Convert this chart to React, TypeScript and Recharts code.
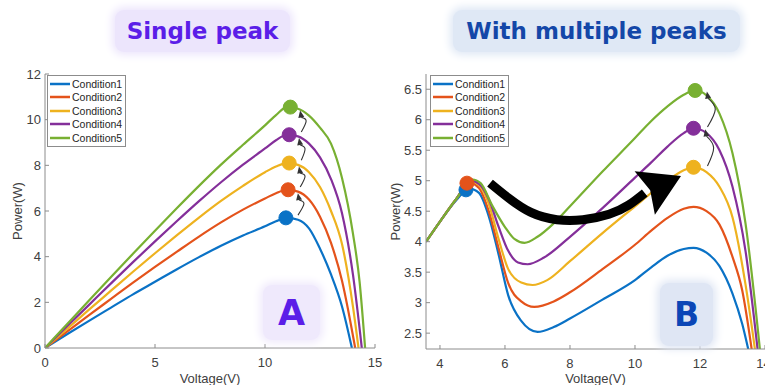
import React from 'react';
import { LineChart, Line, XAxis, YAxis, ReferenceDot, Legend } from 'recharts';

const conditions = ['Condition1', 'Condition2', 'Condition3', 'Condition4', 'Condition5'];
const colors = ['#0a72c6', '#e4531b', '#eeb21f', '#842f9a', '#78b032'];

// panel A - single peak (voltage / power per condition)
const voltA1 = [0, 1, 2, 3, 4, 5, 6, 7, 8, 9, 10, 10.5, 11, 11.5, 12, 12.5, 13, 13.5, 13.95];
const powerA1 = [0, 0.6, 1.19, 1.77, 2.35, 2.9, 3.45, 3.98, 4.48, 4.93, 5.33, 5.55, 5.7, 5.62, 5.24, 4.35, 3.22, 1.82, 0];
const voltA2 = [0, 1, 2, 3, 4, 5, 6, 7, 8, 9, 10, 10.5, 11, 11.5, 12, 12.5, 13, 13.5, 14.1];
const powerA2 = [0, 0.72, 1.44, 2.15, 2.86, 3.55, 4.22, 4.88, 5.5, 6.06, 6.55, 6.78, 6.93, 6.85, 6.5, 5.75, 4.6, 2.95, 0];
const voltA3 = [0, 1, 2, 3, 4, 5, 6, 7, 8, 9, 10, 10.5, 11, 11.5, 12, 12.5, 13, 13.5, 14, 14.25];
const powerA3 = [0, 0.84, 1.68, 2.51, 3.34, 4.15, 4.94, 5.71, 6.44, 7.1, 7.7, 7.95, 8.1, 8.02, 7.7, 7.05, 6.0, 4.55, 1.8, 0];
const voltA4 = [0, 1, 2, 3, 4, 5, 6, 7, 8, 9, 10, 10.5, 11, 11.5, 12, 12.5, 13, 13.5, 14, 14.4];
const powerA4 = [0, 0.95, 1.89, 2.83, 3.76, 4.67, 5.56, 6.43, 7.26, 8.03, 8.74, 9.1, 9.34, 9.27, 8.95, 8.35, 7.4, 5.9, 3.2, 0];
const voltA5 = [0, 1, 2, 3, 4, 5, 6, 7, 8, 9, 10, 10.5, 11, 11.5, 12, 12.5, 13, 13.5, 14, 14.3, 14.55];
const powerA5 = [0, 1.04, 2.08, 3.11, 4.13, 5.14, 6.13, 7.1, 8.03, 8.9, 9.75, 10.2, 10.55, 10.48, 10.18, 9.65, 8.95, 7.45, 5.0, 2.9, 0];
const peakVoltA = [10.95, 11.05, 11.1, 11.1, 11.15];
const peakPowerA = [5.7, 6.93, 8.1, 9.34, 10.55];
const xTicksA = [0, 5, 10, 15];
const yTicksA = [0, 2, 4, 6, 8, 10, 12];

// panel B - with multiple peaks
const voltB1 = [3.57, 4, 4.5, 4.9, 5.2, 5.5, 5.8, 6.1, 6.5, 7, 7.5, 8, 9, 10, 10.5, 11, 11.5, 11.8, 12.2, 12.6, 13, 13.3, 13.5];
const powerB1 = [4.0, 4.33, 4.68, 4.87, 4.8, 4.42, 3.8, 3.12, 2.7, 2.52, 2.6, 2.74, 3.05, 3.37, 3.58, 3.77, 3.88, 3.9, 3.82, 3.6, 3.15, 2.65, 2.2];
const voltB2 = [3.57, 4, 4.5, 4.9, 5.2, 5.5, 5.8, 6.1, 6.5, 6.9, 7.5, 8, 9, 10, 10.5, 11, 11.5, 11.8, 12.2, 12.6, 13, 13.3, 13.6];
const powerB2 = [4.0, 4.33, 4.7, 4.97, 4.88, 4.5, 3.9, 3.32, 3.02, 2.93, 3.02, 3.17, 3.55, 3.95, 4.18, 4.39, 4.54, 4.57, 4.5, 4.28, 3.75, 3.2, 2.2];
const voltB3 = [3.57, 4, 4.5, 4.95, 5.2, 5.5, 5.8, 6.1, 6.5, 6.85, 7.3, 8, 9, 10, 10.5, 11, 11.5, 11.8, 12.2, 12.6, 13, 13.4, 13.7];
const powerB3 = [4.0, 4.33, 4.7, 4.99, 4.93, 4.62, 4.05, 3.55, 3.33, 3.29, 3.37, 3.68, 4.14, 4.58, 4.8, 5.0, 5.17, 5.22, 5.14, 4.9, 4.4, 3.3, 2.2];
const voltB4 = [3.57, 4, 4.5, 4.95, 5.2, 5.5, 5.8, 6.1, 6.4, 6.7, 7.2, 8, 9, 10, 10.5, 11, 11.5, 11.8, 12.2, 12.6, 13, 13.4, 13.78];
const powerB4 = [4.0, 4.33, 4.7, 5.0, 4.95, 4.7, 4.25, 3.85, 3.66, 3.63, 3.74, 4.08, 4.55, 5.05, 5.3, 5.56, 5.78, 5.86, 5.78, 5.5, 4.9, 3.85, 2.2];
const voltB5 = [3.57, 4, 4.5, 5.0, 5.25, 5.6, 6.0, 6.3, 6.6, 7.0, 7.5, 8, 9, 10, 10.5, 11, 11.5, 11.85, 12.2, 12.6, 13, 13.4, 13.85];
const powerB5 = [4.0, 4.33, 4.7, 5.02, 4.96, 4.6, 4.24, 4.04, 3.98, 4.08, 4.3, 4.58, 5.15, 5.7, 5.98, 6.22, 6.41, 6.48, 6.4, 6.1, 5.45, 4.3, 2.2];
const peakVoltB = [4.8, 4.83, 11.8, 11.8, 11.85];
const peakPowerB = [4.85, 4.96, 5.22, 5.86, 6.48];
const xTicksB = [4, 6, 8, 10, 12, 14];
const yTicksB = [2.5, 3, 3.5, 4, 4.5, 5, 5.5, 6, 6.5];

// big black arrow (jump from local peak to global peak)
const jumpVolt = [5.54, 6.1, 6.8, 7.6, 8.4, 9.2, 9.8, 10.3];
const jumpPower = [4.96, 4.72, 4.48, 4.36, 4.36, 4.45, 4.6, 4.8];

const FONT = '"Liberation Sans", Arial, Helvetica, sans-serif';
const TITLE_FONT = '"DejaVu Sans", Verdana, sans-serif';
const AXIS = '#8c8c8c';
const TEXT = '#404040';

type Pt = { v: number; p: number; head?: boolean };

const toPoints = (vs: number[], ps: number[]): Pt[] => vs.map((v, i) => ({ v, p: ps[i] }));

const seriesA = [
  toPoints(voltA1, powerA1),
  toPoints(voltA2, powerA2),
  toPoints(voltA3, powerA3),
  toPoints(voltA4, powerA4),
  toPoints(voltA5, powerA5),
];
const seriesB = [
  toPoints(voltB1, powerB1),
  toPoints(voltB2, powerB2),
  toPoints(voltB3, powerB3),
  toPoints(voltB4, powerB4),
  toPoints(voltB5, powerB5),
];

// small curved arrows between consecutive peak markers
const stepArrow = (v0: number, p0: number, v1: number, p1: number, dvTail: number, dvMid: number, dvHead: number, dpTail: number, dpHead: number): Pt[] => [
  { v: v0 + dvTail, p: p0 + dpTail },
  { v: Math.max(v0, v1) + dvMid, p: (p0 + p1) / 2 },
  { v: v1 + dvHead, p: p1 - dpHead, head: true },
];

const arrowsA = [0, 1, 2, 3].map((i) =>
  stepArrow(peakVoltA[i], peakPowerA[i], peakVoltA[i + 1], peakPowerA[i + 1], 0.55, 0.72, 0.5, 0.12, 0.45)
);
const arrowsB = [2, 3].map((i) =>
  stepArrow(peakVoltB[i], peakPowerB[i], peakVoltB[i + 1], peakPowerB[i + 1], 0.43, 0.62, 0.4, 0.02, 0.13)
);
const jumpArrow: Pt[] = jumpVolt.map((v, i) => ({ v, p: jumpPower[i], head: i === jumpVolt.length - 1 }));

const headDot = (angle: number, len: number, half: number, notch: number, color: string) => (props: any) => {
  const { cx, cy, payload, index } = props;
  if (!payload || !payload.head || cx == null || cy == null) return <g key={`n-${index}`} />;
  const a = (angle * Math.PI) / 180;
  const ux = Math.cos(a);
  const uy = Math.sin(a);
  const nx = -uy;
  const ny = ux;
  const pts = [
    [cx + ux * len, cy + uy * len],
    [cx + nx * half, cy + ny * half],
    [cx + ux * len * notch, cy + uy * len * notch],
    [cx - nx * half, cy - ny * half],
  ];
  return <polygon key={`h-${index}`} points={pts.map((q) => q.join(',')).join(' ')} fill={color} />;
};

const renderLegend = (props: any) => {
  const items = (props.payload || []).filter((e: any) => e.type !== 'none');
  return (
    <div
      style={{
        border: `1px solid ${AXIS}`,
        background: '#fff',
        padding: '1px 3px 1px 2px',
        fontSize: 10.5,
        color: '#262626',
        fontFamily: FONT,
      }}
    >
      {items.map((e: any) => (
        <div key={e.value} style={{ display: 'flex', alignItems: 'center', height: 13.5 }}>
          <svg width={20} height={6} style={{ marginRight: 2 }}>
            <line x1={0} y1={3} x2={20} y2={3} stroke={e.color} strokeWidth={2.5} />
          </svg>
          <span>{e.value}</span>
        </div>
      ))}
    </div>
  );
};

interface PanelProps {
  left: number;
  width: number;
  series: Pt[][];
  peakV: number[];
  peakP: number[];
  xDomain: [number, number];
  yDomain: [number, number];
  xTicks: number[];
  yTicks: number[];
  yAxisWidth: number;
  xAxisHeight: number;
  marginRight: number;
  legendLeft: number;
  labelOffset: number;
  arrows: Pt[][];
  jump?: Pt[];
}

const Panel: React.FC<PanelProps> = (p) => {
  const tick = { fontSize: 13, fill: TEXT, fontFamily: FONT };
  const thinHead = headDot(-100, 7, 3, 0, '#333');
  return (
    <div style={{ position: 'absolute', left: p.left, top: 0 }}>
      <LineChart width={p.width} height={385} margin={{ top: 74, right: p.marginRight, bottom: 0, left: 0 }}>
        <XAxis
          dataKey="v"
          type="number"
          domain={p.xDomain}
          ticks={p.xTicks}
          allowDataOverflow
          stroke={AXIS}
          tickSize={-4}
          tickMargin={14}
          tick={tick}
          height={p.xAxisHeight}
          label={{ value: 'Voltage(V)', position: 'insideBottom', offset: 2, fill: TEXT, fontSize: 13, fontFamily: FONT }}
        />
        <XAxis
          xAxisId="top"
          orientation="top"
          dataKey="v"
          type="number"
          domain={p.xDomain}
          ticks={p.xTicks}
          allowDataOverflow
          stroke={AXIS}
          tickSize={-4}
          tick={false}
          height={0}
        />
        <YAxis
          type="number"
          domain={p.yDomain}
          ticks={p.yTicks}
          allowDataOverflow
          stroke={AXIS}
          tickSize={-4}
          tickMargin={8}
          tick={tick}
          width={p.yAxisWidth}
          label={{
            value: 'Power(W)',
            angle: -90,
            position: 'insideLeft',
            offset: p.labelOffset,
            fill: TEXT,
            fontSize: 13,
            fontFamily: FONT,
            style: { textAnchor: 'middle' },
          }}
        />
        <YAxis
          yAxisId="right"
          orientation="right"
          type="number"
          domain={p.yDomain}
          ticks={p.yTicks}
          allowDataOverflow
          stroke={AXIS}
          tickSize={-4}
          tick={false}
          width={0}
        />
        <Legend
          layout="vertical"
          align="center"
          verticalAlign="middle"
          content={renderLegend}
          wrapperStyle={{ left: p.legendLeft, top: 75, width: 'auto' }}
        />
        {p.series.map((data, i) => (
          <Line
            key={conditions[i]}
            name={conditions[i]}
            data={data}
            dataKey="p"
            type="monotone"
            stroke={colors[i]}
            strokeWidth={2.2}
            dot={false}
            activeDot={false}
            isAnimationActive={false}
          />
        ))}
        {p.arrows.map((data, i) => (
          <Line
            key={`arrow-${i}`}
            data={data}
            dataKey="p"
            type="natural"
            stroke="#333"
            strokeWidth={1.1}
            dot={thinHead}
            activeDot={false}
            legendType="none"
            isAnimationActive={false}
          />
        ))}
        {p.peakV.map((v, i) => (
          <ReferenceDot key={`peak-${i}`} x={v} y={p.peakP[i]} r={7} fill={colors[i]} stroke={colors[i]} />
        ))}
        {p.jump && (
          <Line
            data={p.jump}
            dataKey="p"
            type="natural"
            stroke="#000"
            strokeWidth={9}
            dot={headDot(-25, 40, 24, 0.15, '#000')}
            activeDot={false}
            legendType="none"
            isAnimationActive={false}
          />
        )}
      </LineChart>
    </div>
  );
};

const badge = (
  left: number,
  top: number,
  width: number,
  height: number,
  bg: string,
  color: string,
  size: number,
  text: string
) => (
  <div
    style={{
      position: 'absolute',
      left,
      top,
      width,
      height,
      background: bg,
      borderRadius: 9,
      boxShadow: `0 0 8px 3px ${bg}`,
      display: 'flex',
      alignItems: 'center',
      justifyContent: 'center',
      color,
      fontFamily: TITLE_FONT,
      fontWeight: 'bold',
      fontSize: size,
      whiteSpace: 'nowrap',
    }}
  >
    {text}
  </div>
);

export default function App() {
  return (
    <div
      style={{
        position: 'absolute',
        left: 0,
        top: 0,
        width: 765,
        height: 385,
        overflow: 'hidden',
        background: '#fff',
        fontFamily: FONT,
      }}
    >
      {badge(115, 10, 175, 42, '#ece5fc', '#5b1ee8', 23, 'Single peak')}
      {badge(453, 10, 287, 42, '#dfe8f5', '#1447a8', 23, 'With multiple peaks')}
      <Panel
        left={0}
        width={390}
        series={seriesA}
        peakV={peakVoltA}
        peakP={peakPowerA}
        xDomain={[0, 15]}
        yDomain={[0, 12]}
        xTicks={xTicksA}
        yTicks={yTicksA}
        yAxisWidth={45}
        xAxisHeight={37}
        marginRight={15}
        legendLeft={47}
        labelOffset={17}
        arrows={arrowsA}
      />
      <Panel
        left={380}
        width={390}
        series={seriesB}
        peakV={peakVoltB}
        peakP={peakPowerB}
        xDomain={[3.57, 14]}
        yDomain={[2.24, 6.75]}
        xTicks={xTicksB}
        yTicks={yTicksB}
        yAxisWidth={46}
        xAxisHeight={36}
        marginRight={5}
        legendLeft={50}
        labelOffset={15}
        arrows={arrowsB}
        jump={jumpArrow}
      />
      {badge(263, 285, 57, 55, '#efe9fc', '#5b1ee8', 35, 'A')}
      {badge(660, 283, 53, 63, '#dfe6f4', '#0b46b6', 33, 'B')}
    </div>
  );
}
